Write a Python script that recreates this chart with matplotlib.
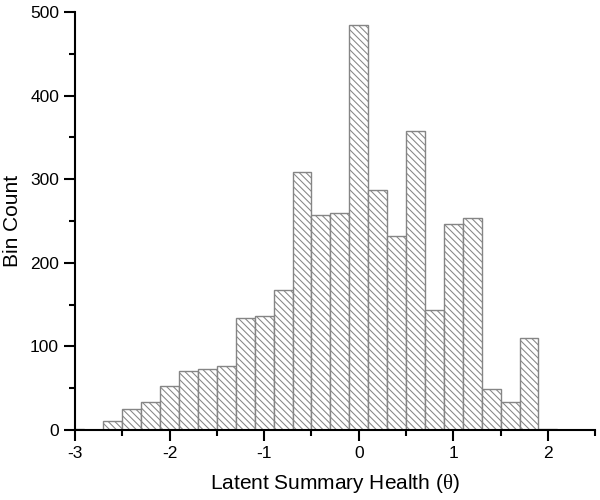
import matplotlib
matplotlib.use("Agg")
import matplotlib.pyplot as plt
from matplotlib.ticker import MultipleLocator

plt.rcParams["font.family"] = ["Liberation Sans", "DejaVu Sans"]
plt.rcParams["axes.unicode_minus"] = False
plt.rcParams["mathtext.fontset"] = "custom"
plt.rcParams["mathtext.rm"] = "Liberation Serif"
plt.rcParams["hatch.color"] = "#111111"
plt.rcParams["hatch.linewidth"] = 0.75

# bin centres (width 0.2) and counts
bin_centers = [-3.0, -2.8, -2.6, -2.4, -2.2, -2.0, -1.8, -1.6, -1.4, -1.2,
               -1.0, -0.8, -0.6, -0.4, -0.2, 0.0, 0.2, 0.4, 0.6, 0.8,
               1.0, 1.2, 1.4, 1.6, 1.8, 2.0]
bin_counts = [1, 0, 11, 25, 34, 53, 70, 73, 76, 134,
              136, 167, 309, 257, 260, 484, 287, 232, 358, 144,
              247, 254, 49, 34, 110, 1]
bin_width = 0.2

fig = plt.figure(figsize=(6, 5), dpi=100)
ax = fig.add_axes([0.125, 0.14, 0.867, 0.836])

ax.bar(bin_centers, bin_counts, width=bin_width, facecolor="white",
       edgecolor="#858585", linewidth=1.0, hatch="\\\\\\\\\\")

ax.set_xlim(-3, 2.5)
ax.set_ylim(0, 500)
ax.xaxis.set_major_locator(MultipleLocator(1))
ax.xaxis.set_minor_locator(MultipleLocator(0.5))
ax.yaxis.set_major_locator(MultipleLocator(100))
ax.yaxis.set_minor_locator(MultipleLocator(50))

for s in ["top", "right"]:
    ax.spines[s].set_visible(False)
for s in ["left", "bottom"]:
    ax.spines[s].set_linewidth(1.5)

ax.tick_params(which="major", length=8, width=1.5, labelsize=12.5, direction="out")
ax.tick_params(which="minor", length=4, width=1.5, direction="out")

ax.set_xlabel(r"Latent Summary Health ($\mathrm{\theta}$)", fontsize=15, labelpad=8)
ax.set_ylabel("Bin Count", fontsize=15, labelpad=6)

fig.savefig("out.png", dpi=100, facecolor="white")
